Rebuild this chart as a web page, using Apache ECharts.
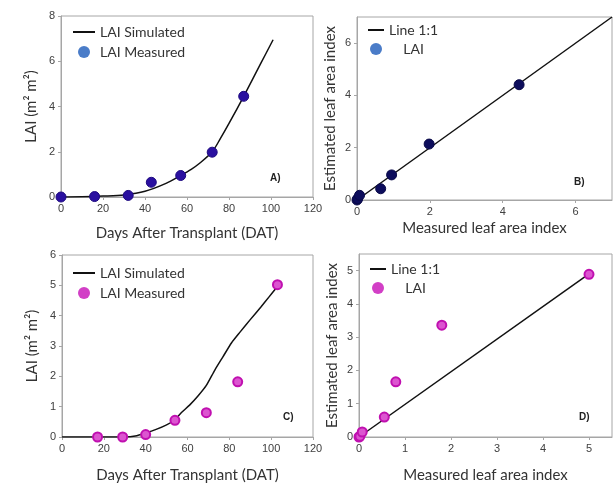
<!DOCTYPE html>
<html>
<head>
<meta charset="utf-8">
<script src="https://cdn.jsdelivr.net/npm/echarts@6/dist/echarts.min.js"></script>
<style>html,body{margin:0;padding:0;background:#fff}#c{width:614px;height:483px}</style>
</head>
<body>
<div id="c"></div>
<script>
// Panel A: simulated curve and measured LAI (blue)
const simA_x = [0, 10, 20, 30, 40, 50, 57, 62, 66, 72, 76, 80, 87, 95, 101];
const simA_y = [0, 0.01, 0.04, 0.09, 0.25, 0.6, 0.95, 1.22, 1.49, 2.0, 2.6, 3.25, 4.45, 5.88, 6.95];
const measA_x = [0, 16, 32, 43, 57, 72, 87];
const measA_y = [0, 0.02, 0.07, 0.65, 0.95, 1.98, 4.45];
// Panel B: measured vs estimated (blue)
const lineB_x = [0, 7];
const lineB_y = [0, 7];
const ptsB_x = [0, 0.02, 0.07, 0.65, 0.95, 1.98, 4.45];
const ptsB_y = [0, 0.05, 0.18, 0.43, 0.96, 2.14, 4.41];
// Panel C: simulated curve and measured LAI (magenta)
const simC_x = [0, 10, 20, 30, 35, 40, 45, 50, 54, 57, 61, 65, 69, 73, 77, 81, 85, 90, 95, 99, 102.5];
const simC_y = [0, 0, 0, 0, 0.03, 0.13, 0.25, 0.4, 0.57, 0.8, 1.05, 1.35, 1.7, 2.2, 2.65, 3.1, 3.45, 3.87, 4.28, 4.62, 4.92];
const measC_x = [17, 29, 40, 54, 69, 84, 103];
const measC_y = [0, 0, 0.08, 0.55, 0.8, 1.82, 5.02];
// Panel D: measured vs estimated (magenta)
const lineD_x = [0, 5];
const lineD_y = [0, 4.9];
const ptsD_x = [0, 0.02, 0.07, 0.55, 0.8, 1.8, 5.0];
const ptsD_y = [0, 0.02, 0.15, 0.6, 1.66, 3.36, 4.89];
// Tick settings
const ticksA = {min: 0, max: 120, interval: 20};
const ticksAy = {min: 0, max: 8, interval: 2};
const ticksB = {min: 0, max: 7, interval: 2};
const ticksCy = {min: 0, max: 6, interval: 1};
const ticksD = {min: 0, max: 5.5, interval: 1};

const pair = (xs, ys) => xs.map((x, i) => [x, ys[i]]);

const axisCommon = {
  type: 'value',
  splitLine: {show: false},
  axisLine: {show: true, onZero: false, lineStyle: {color: '#a6a6a6', width: 1}},
  axisTick: {show: true, inside: false, length: 3, lineStyle: {color: '#a6a6a6'}},
  axisLabel: {color: '#404040', fontSize: 11, fontFamily: 'Liberation Sans', margin: 6, showMaxLabel: true},
  nameLocation: 'middle',
  nameTextStyle: {fontFamily: 'Lato', fontSize: 15, color: '#333'}
};
function ax(idx, t, name, gap, showMax) {
  return Object.assign({}, axisCommon, t, {gridIndex: idx, name: name, nameGap: gap,
    axisLabel: Object.assign({}, axisCommon.axisLabel, {showMaxLabel: showMax})});
}

const gridStyle = {show: true, borderColor: '#a6a6a6', borderWidth: 1, containLabel: false, outerBoundsMode: 'none'};
const blueLegend = '#4a7cc8';
const magenta = '#d23fc6';
const hiddenSym = {color: 'rgba(0,0,0,0)', borderWidth: 0, opacity: 0};

const legendText = {fontFamily: 'Lato', fontSize: 14, color: '#333'};
const padName = n => (n === 'LAI' ? '    LAI' : n);
const chart = echarts.init(document.getElementById('c'), null, {renderer: 'canvas'});
chart.setOption({
  animation: false,
  backgroundColor: '#fff',
  grid: [
    Object.assign({left: 61, top: 16, width: 252, height: 181}, gridStyle),
    Object.assign({left: 357, top: 17, width: 255, height: 183}, gridStyle),
    Object.assign({left: 62, top: 255, width: 251, height: 182}, gridStyle),
    Object.assign({left: 359, top: 254, width: 253, height: 183}, gridStyle)
  ],
  xAxis: [
    ax(0, ticksA, 'Days After Transplant (DAT)', 29, true),
    ax(1, ticksB, 'Measured leaf area index', 21, false),
    ax(2, ticksA, 'Days After Transplant (DAT)', 31, true),
    ax(3, ticksD, 'Measured leaf area index', 31, false)
  ],
  yAxis: [
    ax(0, ticksAy, 'LAI (m\u00b2 m\u00b2)', 22, true),
    ax(1, ticksB, 'Estimated leaf area index', 19, false),
    ax(2, ticksCy, 'LAI (m\u00b2 m\u00b2)', 22, true),
    ax(3, ticksD, 'Estimated leaf area index', 19, false)
  ],
  legend: [
    {left: 72, top: 25, padding: 0, orient: 'vertical', itemGap: 6, itemWidth: 22, itemHeight: 12, textStyle: legendText,
      data: [{name: 'LAI Simulated', itemStyle: hiddenSym}, {name: 'LAI Measured', icon: 'circle', itemStyle: {color: blueLegend, borderWidth: 0}}]},
    {left: 367, top: 23, padding: 0, orient: 'vertical', itemGap: 5, itemWidth: 16, itemHeight: 12, textStyle: legendText,
      formatter: padName,
      data: [{name: 'Line 1:1', itemStyle: hiddenSym}, {name: 'LAI', icon: 'circle', itemStyle: {color: blueLegend, borderWidth: 0}}]},
    {left: 72, top: 266, padding: 0, orient: 'vertical', itemGap: 6, itemWidth: 22, itemHeight: 12, textStyle: legendText,
      data: [{name: 'LAI Simulated', itemStyle: hiddenSym}, {name: 'LAI Measured', icon: 'circle', itemStyle: {color: magenta, borderWidth: 0}}]},
    {left: 369, top: 262, padding: 0, orient: 'vertical', itemGap: 5, itemWidth: 16, itemHeight: 12, textStyle: legendText,
      formatter: padName,
      data: [{name: 'Line 1:1', itemStyle: hiddenSym}, {name: 'LAI', icon: 'circle', itemStyle: {color: magenta, borderWidth: 0}}]}
  ],
  graphic: [
    {type: 'text', left: 270, top: 173, style: {text: 'A)', font: 'bold 10px "Liberation Sans"', fill: '#222'}},
    {type: 'text', left: 574, top: 177, style: {text: 'B)', font: 'bold 10px "Liberation Sans"', fill: '#222'}},
    {type: 'text', left: 283, top: 412, style: {text: 'C)', font: 'bold 10px "Liberation Sans"', fill: '#222'}},
    {type: 'text', left: 579, top: 412, style: {text: 'D)', font: 'bold 10px "Liberation Sans"', fill: '#222'}}
  ],
  series: [
    {name: 'LAI Simulated', type: 'line', xAxisIndex: 0, yAxisIndex: 0, data: pair(simA_x, simA_y), smooth: 0.3,
      symbol: 'none', lineStyle: {color: '#111', width: 1.5}, itemStyle: {color: '#111'}, z: 2},
    {name: 'LAI Measured', type: 'scatter', xAxisIndex: 0, yAxisIndex: 0, data: pair(measA_x, measA_y), symbolSize: 10,
      itemStyle: {color: '#2a10a0', borderColor: '#1e0a80', borderWidth: 1, opacity: 1}, z: 3},
    {name: 'Line 1:1', type: 'line', xAxisIndex: 1, yAxisIndex: 1, data: pair(lineB_x, lineB_y),
      symbol: 'none', lineStyle: {color: '#111', width: 1.5}, itemStyle: {color: '#111'}, z: 2},
    {name: 'LAI', type: 'scatter', xAxisIndex: 1, yAxisIndex: 1, data: pair(ptsB_x, ptsB_y), symbolSize: 10,
      itemStyle: {color: '#0d0d5c', borderColor: '#0a0a48', borderWidth: 1, opacity: 1}, z: 3},
    {name: 'LAI Simulated', type: 'line', xAxisIndex: 2, yAxisIndex: 2, data: pair(simC_x, simC_y), smooth: 0.2,
      symbol: 'none', lineStyle: {color: '#111', width: 1.5}, itemStyle: {color: '#111'}, z: 2},
    {name: 'LAI Measured', type: 'scatter', xAxisIndex: 2, yAxisIndex: 2, data: pair(measC_x, measC_y), symbolSize: 9,
      itemStyle: {color: '#dc55d0', borderColor: '#c010b0', borderWidth: 2, opacity: 1}, z: 3},
    {name: 'Line 1:1', type: 'line', xAxisIndex: 3, yAxisIndex: 3, data: pair(lineD_x, lineD_y),
      symbol: 'none', lineStyle: {color: '#111', width: 1.5}, itemStyle: {color: '#111'}, z: 2},
    {name: 'LAI', type: 'scatter', xAxisIndex: 3, yAxisIndex: 3, data: pair(ptsD_x, ptsD_y), symbolSize: 9,
      itemStyle: {color: '#dc55d0', borderColor: '#c010b0', borderWidth: 2, opacity: 1}, z: 3}
  ]
});
</script>
</body>
</html>
